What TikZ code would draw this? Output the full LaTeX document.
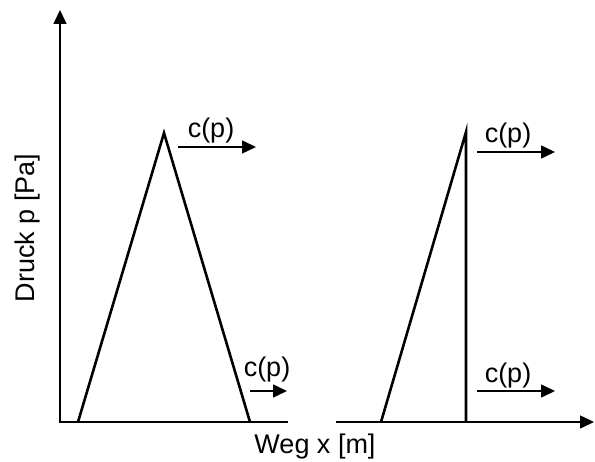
\documentclass[tikz,border=0pt]{standalone}
\usepackage{fontspec}
\setmainfont{Liberation Sans}
\usepackage{tikz}
\usetikzlibrary{arrows.meta}
\tikzset{
  axis/.style={-{Triangle[length=14pt,width=13pt]},line width=1.5pt},
  front/.style={line width=2.6pt,line join=miter},
  speed/.style={-{Triangle[length=14pt,width=13pt]},line width=1.5pt},
  labeltext/.style={font=\fontsize{27}{30}\selectfont,inner sep=0pt}
}

\begin{document}
\begin{tikzpicture}[x=1pt,y=1pt]
  \useasboundingbox (0,0) rectangle (595,461);
  % axes
  \coordinate (o) at (60,39);
  \coordinate (ytop) at (60,451);
  \coordinate (xgap1) at (288,39);
  \coordinate (xgap2) at (336,39);
  \coordinate (xend) at (594,39);
  \draw[axis] (xgap1) -- (o) -- (ytop);
  \draw[axis] (xgap2) -- (xend);
  \node[labeltext,rotate=90] (druck) at (28,233) {Druck p [Pa]};
  \node[labeltext] (weg) at (315,14) {Weg x [m]};
  % left pulse
  \coordinate (a1) at (78,39);
  \coordinate (p1) at (164,328);
  \coordinate (b1) at (250,39);
  \draw[front] (a1) -- (p1) -- (b1);
  % right pulse
  \coordinate (a2) at (381,39);
  \coordinate (p2) at (466,329);
  \coordinate (b2) at (466,39);
  \draw[front] (a2) -- (p2) -- (b2);
  % speeds
  \coordinate (s1) at (178,314); \coordinate (e1) at (256,314);
  \coordinate (s2) at (250,70);  \coordinate (e2) at (287,70);
  \coordinate (s3) at (477,309); \coordinate (e3) at (555,309);
  \coordinate (s4) at (477,70);  \coordinate (e4) at (555,70);
  \draw[speed] (s1) -- (e1);
  \draw[speed] (s2) -- (e2);
  \draw[speed] (s3) -- (e3);
  \draw[speed] (s4) -- (e4);
  \node[labeltext] (c1) at (211,330) {c(p)};
  \node[labeltext] (c2) at (267,91) {c(p)};
  \node[labeltext] (c3) at (508,325) {c(p)};
  \node[labeltext] (c4) at (508,85) {c(p)};
\end{tikzpicture}
\end{document}
